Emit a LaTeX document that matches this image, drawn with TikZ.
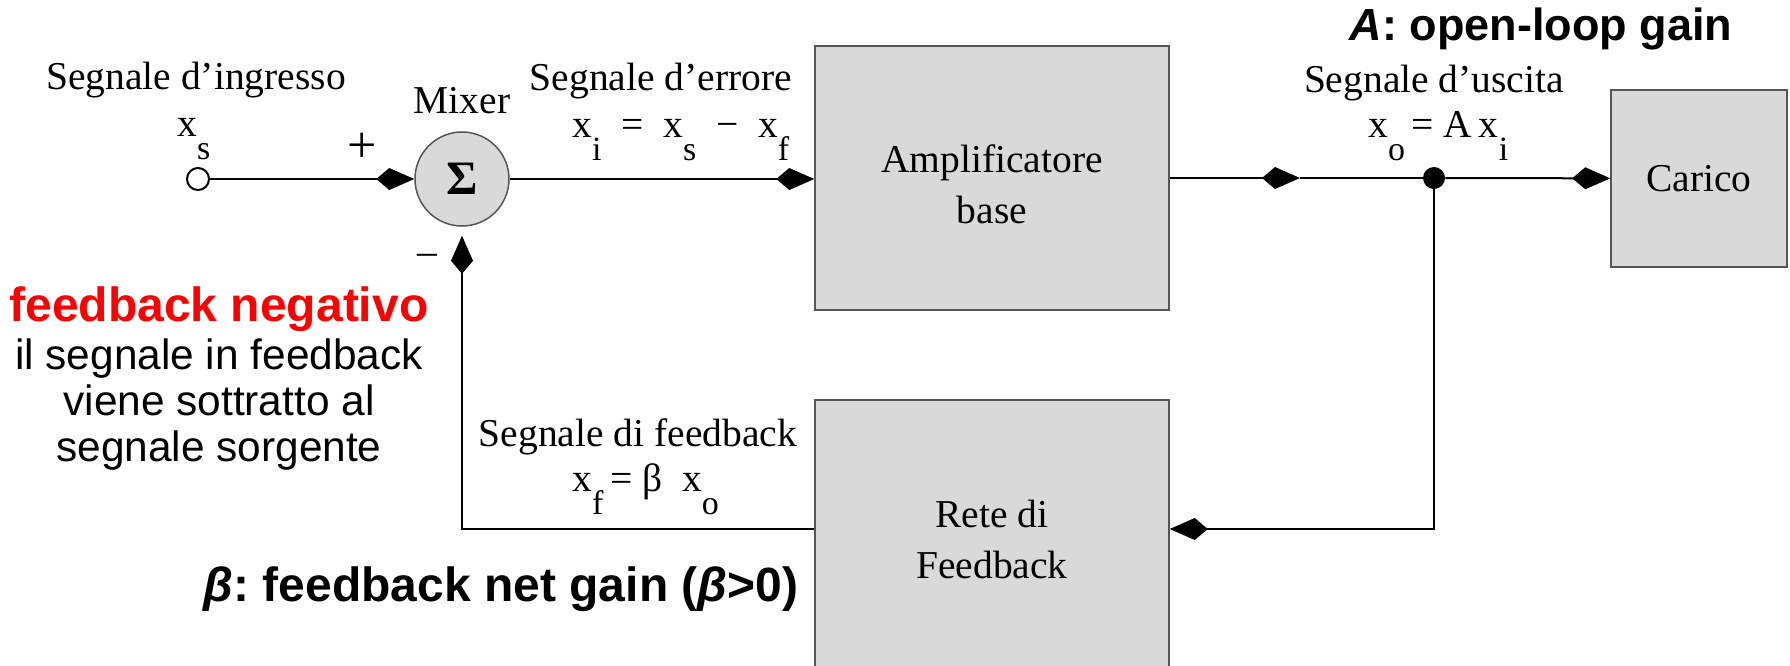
\documentclass[tikz,border=0pt]{standalone}
\usepackage{fontspec}
\setmainfont{Liberation Serif}
\newfontfamily\arialfont{Liberation Sans}
\usepackage{tikz}
\usetikzlibrary{positioning,calc,arrows.meta}
\definecolor{boxgray}{HTML}{D9D9D9}
\definecolor{edgegray}{HTML}{555555}
\newcommand{\lsub}[1]{\raisebox{-0.6em}{\fontsize{17}{17}\selectfont #1}}
\frenchspacing

\begin{document}
\begin{tikzpicture}[x=0.5pt,y=-0.5pt,
    font=\fontsize{19.75}{25.5}\selectfont,
    >={Kite[length=19pt,width=11pt,inset=6.5pt]},
    blockbox/.style={draw=edgegray,line width=0.75pt,fill=boxgray,align=center,inner sep=0pt},
    wire/.style={line width=1pt},
    lbl/.style={inner sep=0pt},
    bigbold/.style={inner sep=0pt,font=\arialfont\bfseries\fontsize{24}{28}\selectfont}]
    \useasboundingbox (0,0) rectangle (1790,665);
    \clip (0,0) rectangle (1790,665);

    % blocks
    \node[blockbox,minimum width=177pt,minimum height=132pt] (amp) at (992,178) {};
    \node[lbl,align=center] (amptxt) at (992,184) {Amplificatore\\base};
    \node[blockbox,minimum width=88pt,minimum height=88.5pt] (car) at (1699,178.5) {Carico};
    \node[blockbox,minimum width=177pt,minimum height=140pt] (feed) at (992,540) {};
    \node[lbl,align=center] (feedtxt) at (992,539) {Rete di\\Feedback};
    \node[circle,draw=edgegray,line width=0.75pt,fill=boxgray,minimum size=47pt,inner sep=0pt] (mix) at (462,179) {\fontsize{24}{24}\selectfont\bfseries Σ};
    \node[circle,draw,line width=1pt,fill=white,minimum size=11pt,inner sep=0pt] (src) at (198,179) {};
    \node[circle,fill,minimum size=11pt,inner sep=0pt] (jn) at (1434,178) {};

    % forward path
    \coordinate (mid) at (1300,178);
    \draw[wire,->] (src) -- (mix);
    \draw[wire,->] (mix) -- (amp.west |- mix);
    \draw[wire,->] (amp.east |- mid) -- (mid);
    \draw[wire] (mid) -- (jn);
    \draw[wire,->] (jn) -- (car);

    % feedback path
    \coordinate (fbr) at (1434,529);
    \coordinate (fbl) at (462,529);
    \draw[wire,->] (jn.center) -- (fbr) -- (feed.east |- fbr);
    \draw[wire,->,shorten >=4.5pt] (feed.west |- fbl) -- (fbl) -- (mix);

    % signal labels
    \node[lbl] (ingr) at (196,80) {Segnale d’ingresso};
    \node[lbl,anchor=base west] (xs) at (177,136) {x\lsub{s}};
    \node[lbl] (plus) at (362,148) {\fontsize{26}{26}\selectfont +};
    \node[lbl] (minus) at (427,259) {–};
    \node[lbl] (mixlbl) at (462,101) {Mixer};
    \node[lbl] (err) at (661,81) {Segnale d’errore};
    \node[lbl,anchor=base west] (xi) at (572,137) {x\lsub{i}\ \ =\ \ x\lsub{s}\ \ −\ \ x\lsub{f}};
    \node[lbl] (usc) at (1434,83) {Segnale d’uscita};
    \node[lbl,anchor=base west] (xo) at (1368,137) {x\lsub{o}\,= A\,x\lsub{i}};
    \node[lbl] (fbk) at (638,437) {Segnale di feedback};
    \node[lbl,anchor=base west] (xf) at (572,491) {x\lsub{f}\,= β\ \ x\lsub{o}};

    % annotations
    \node[bigbold,anchor=base,font=\arialfont\bfseries\fontsize{22.5}{26}\selectfont] (Again) at (1541,40) {{\itshape A}: open-loop gain};
    \node[bigbold,anchor=base] (Bgain) at (501,601) {{\itshape β}: feedback net gain ({\itshape β}>0)};
    \node[bigbold,anchor=base,text=red] (neg) at (219,321) {feedback negativo};
    \node[lbl,anchor=north,align=center,font=\arialfont\fontsize{21.2}{23}\selectfont] (negtxt) at (219,338) {il segnale in feedback\\viene sottratto al\\segnale sorgente};
\end{tikzpicture}
\end{document}
